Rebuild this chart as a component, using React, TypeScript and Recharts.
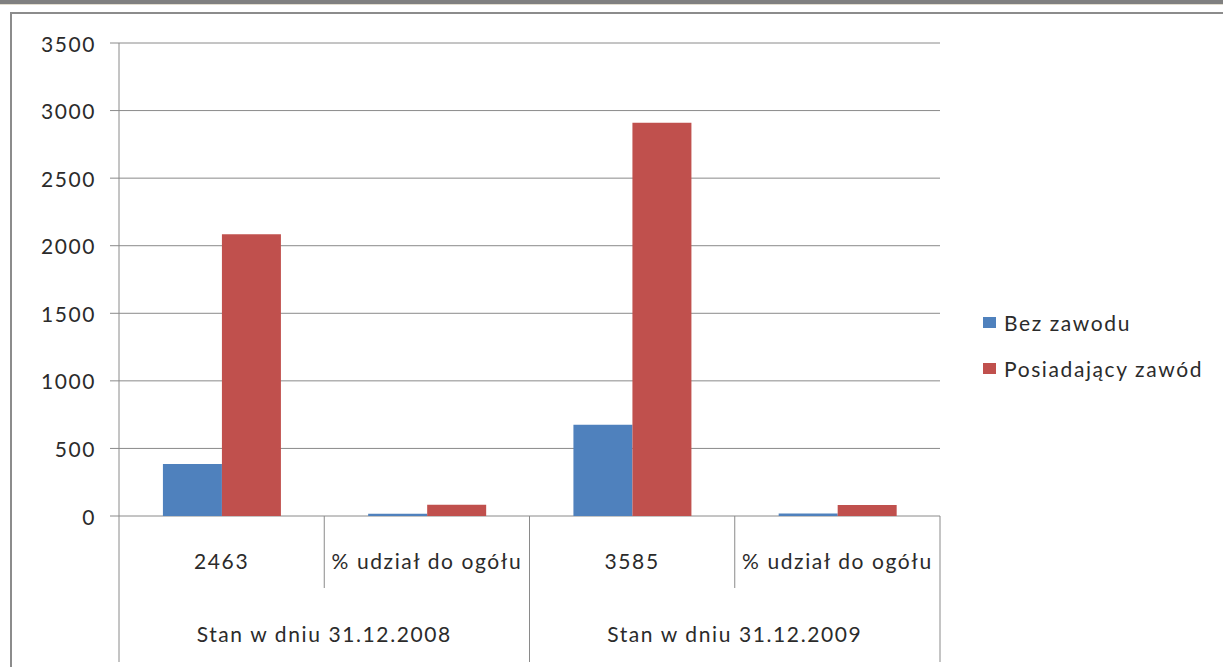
import React from 'react';
import { BarChart, Bar, XAxis, YAxis, CartesianGrid, Legend } from 'recharts';

const categories = ['2463', '% udział do ogółu', '3585', '% udział do ogółu'];
const groups = ['Stan w dniu 31.12.2008', 'Stan w dniu 31.12.2009'];
const bezZawodu = [385, 16, 675, 19];
const posiadajacyZawod = [2085, 84, 2910, 81];
const yTicks = [0, 500, 1000, 1500, 2000, 2500, 3000, 3500];

const data = categories.map((c, i) => ({
  label: c,
  group: groups[Math.floor(i / 2)],
  bez: bezZawodu[i],
  pos: posiadajacyZawod[i],
}));

const W = 1223;
const H = 667;
const M_TOP = 43;
const Y_W = 119;
const M_RIGHT = 283;
const X_H = 151;
const BAND = (W - Y_W - M_RIGHT) / categories.length;
const FONT = 'Lato, "Open Sans", sans-serif';
const LS = 1.6;
const LINE = '#8a8a8a';
const TEXT = '#2b2b2b';

const XTick = (props: any) => {
  const { x, y, payload, index } = props;
  const left = x - BAND / 2;
  const right = x + BAND / 2;
  const first = index % 2 === 0;
  const last = index === categories.length - 1;
  return (
    <g>
      <line x1={left} y1={y} x2={left} y2={first ? y + 146 : y + 72} stroke={LINE} strokeWidth={1} />
      {last && <line x1={right} y1={y} x2={right} y2={y + 146} stroke={LINE} strokeWidth={1} />}
      <text x={x} y={y + 44} textAnchor="middle" dominantBaseline="central" fill={TEXT} fontSize={21} fontFamily={FONT} letterSpacing={LS}>
        {payload.value}
      </text>
      {!first && (
        <text x={left} y={y + 117} textAnchor="middle" dominantBaseline="central" fill={TEXT} fontSize={21} fontFamily={FONT} letterSpacing={LS}>
          {data[index].group}
        </text>
      )}
    </g>
  );
};

const YTick = (props: any) => {
  const { x, y, payload } = props;
  return (
    <text x={x} y={y} textAnchor="end" dominantBaseline="central" fill={TEXT} fontSize={21} fontFamily={FONT} letterSpacing={LS}>
      {payload.value}
    </text>
  );
};

const LegendContent = () => (
  <div style={{ fontFamily: FONT, fontSize: 21, color: TEXT, letterSpacing: LS }}>
    {[
      { name: 'Bez zawodu', color: '#4F81BD' },
      { name: 'Posiadający zawód', color: '#C0504D' },
    ].map((it) => (
      <div key={it.name} style={{ display: 'flex', alignItems: 'center', height: 46 }}>
        <span style={{ display: 'inline-block', width: 13, height: 11, background: it.color, marginRight: 8 }} />
        <span>{it.name}</span>
      </div>
    ))}
  </div>
);

export default function App() {
  return (
    <div style={{ position: 'absolute', left: 0, top: 0, width: W, height: H, overflow: 'hidden', background: '#fff' }}>
      <div style={{ position: 'absolute', left: 0, top: 0, width: W, height: 4, background: '#808080' }} />
      <div style={{ position: 'absolute', left: 0, top: 4, width: W, height: 1, background: '#e2ddd0' }} />
      <div style={{ position: 'absolute', left: 10, top: 12, width: W + 20, height: H + 20, border: '2px solid #8c8c8c', boxSizing: 'border-box' }} />
      <div style={{ position: 'absolute', left: 0, top: 0 }}>
        <BarChart
          width={W}
          height={H}
          data={data}
          margin={{ top: M_TOP, right: M_RIGHT, left: 0, bottom: 0 }}
          barCategoryGap="21.4%"
          barGap={0}
        >
          <CartesianGrid horizontal vertical={false} stroke={LINE} strokeDasharray="0" />
          <XAxis
            dataKey="label"
            height={X_H}
            axisLine={false}
            tickLine={false}
            tickSize={0}
            tickMargin={0}
            interval={0}
            tick={<XTick />}
          />
          <YAxis
            width={Y_W}
            domain={[0, 3500]}
            ticks={yTicks}
            interval={0}
            axisLine={{ stroke: LINE }}
            tickLine={{ stroke: LINE }}
            tickSize={9}
            tickMargin={14}
            tick={<YTick />}
          />
          <Legend
            layout="vertical"
            align="center"
            verticalAlign="middle"
            content={<LegendContent />}
            wrapperStyle={{ left: 983, top: 299, width: 240 }}
          />
          <Bar dataKey="bez" name="Bez zawodu" fill="#4F81BD" isAnimationActive={false} />
          <Bar dataKey="pos" name="Posiadający zawód" fill="#C0504D" isAnimationActive={false} />
        </BarChart>
      </div>
    </div>
  );
}
